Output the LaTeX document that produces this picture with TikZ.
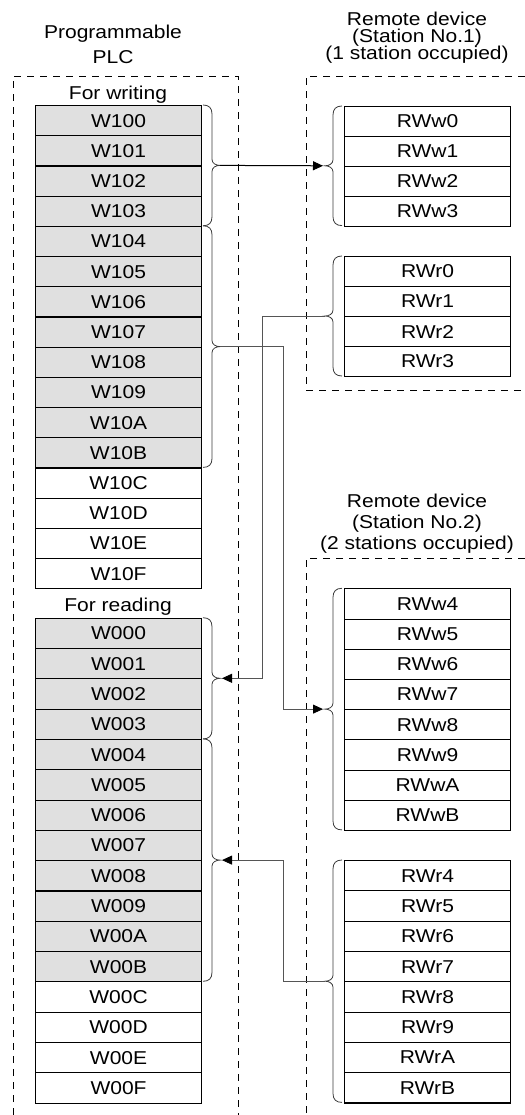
\documentclass[tikz,border=0pt]{standalone}
\usepackage{fontspec}
\setmainfont{Liberation Sans}[FakeStretch=1.13]
\usetikzlibrary{arrows.meta}
\definecolor{cellgray}{RGB}{224,224,224}
\definecolor{conngray}{RGB}{85,85,85}
\definecolor{bracegray}{RGB}{60,60,60}
\newcommand\BraceRight[4]{% x0, top, bottom, tip name : "}" shape
  \pgfmathsetmacro\bmid{(#2+#3)/2}
  \draw[brace] (#1,#2) .. controls ({#1+6},#2) and ({#1+9},{#2+3}) .. ({#1+9},{#2+9})
    -- ({#1+9},{\bmid-6}) .. controls ({#1+9},{\bmid-2}) and ({#1+13},\bmid) .. ({#1+17},\bmid)
    .. controls ({#1+13},\bmid) and ({#1+9},{\bmid+2}) .. ({#1+9},{\bmid+6})
    -- ({#1+9},{#3-9}) .. controls ({#1+9},{#3-3}) and ({#1+6},#3) .. (#1,#3);
  \coordinate (#4) at ({#1+17},\bmid);
}
\newcommand\BraceLeft[4]{% x0, top, bottom, tip name : "{" shape
  \pgfmathsetmacro\bmid{(#2+#3)/2}
  \draw[brace] (#1,#2) .. controls ({#1-6},#2) and ({#1-9},{#2+3}) .. ({#1-9},{#2+9})
    -- ({#1-9},{\bmid-6}) .. controls ({#1-9},{\bmid-2}) and ({#1-13},\bmid) .. ({#1-17},\bmid)
    .. controls ({#1-13},\bmid) and ({#1-9},{\bmid+2}) .. ({#1-9},{\bmid+6})
    -- ({#1-9},{#3-9}) .. controls ({#1-9},{#3-3}) and ({#1-6},#3) .. (#1,#3);
  \coordinate (#4) at ({#1-17},\bmid);
}
\begin{document}
\begin{tikzpicture}[x=1bp,y=-1bp,
  every node/.style={font=\fontsize{18.6bp}{20bp}\selectfont, inner sep=0pt},
  cell/.style={draw, line width=1.1bp, minimum width=166bp, minimum height=#1, anchor=north west},
  shaded/.style={fill=cellgray},
  dbox/.style={line width=0.9bp, dash pattern=on 7bp off 6bp},
  brace/.style={draw=bracegray, line width=0.8bp},
  tip/.style={-{Triangle[length=10bp,width=9bp,color=black]}},
  conn/.style={draw=conngray, line width=0.8bp, tip, shorten >=2bp},
  connb/.style={draw=black, line width=1bp, tip, shorten >=2bp},
  title/.style={anchor=base}
]
\useasboundingbox (0,0) rectangle (525,1115);

% dashed frames
\draw[dbox] (13,1115) -- (13,76) -- (238,76) -- (238,1115);
\draw[dbox] (525,76) -- (306,76) -- (306,390) -- (525,390);
\draw[dbox] (525,558) -- (306,558) -- (306,1115);

% titles
\node[title] (tplc1) at (113,38) {Programmable};
\node[title] (tplc2) at (113,63) {PLC};
\node[title] (tr1a) at (417,25) {Remote device};
\node[title] (tr1b) at (417,42) {(Station No.1)};
\node[title] (tr1c) at (417,59.5) {(1 station occupied)};
\node[title] (tr2a) at (417,507) {Remote device};
\node[title] (tr2b) at (417,528) {(Station No.2)};
\node[title] (tr2c) at (417,549) {(2 stations occupied)};
\node[title] (fw) at (118,99) {For writing};
\node[title] (fr) at (118,611) {For reading};

% PLC writing area
\foreach \t [count=\i from 0] in {W100,W101,W102,W103,W104,W105,W106,W107,W108,W109,W10A,W10B,W10C,W10D,W10E,W10F}{
  \ifnum\i<12
    \node[cell=30.2bp, shaded] (\t) at (35,{105+\i*30.2}) {\t};
  \else
    \node[cell=30.2bp] (\t) at (35,{105+\i*30.2}) {\t};
  \fi
}
% PLC reading area
\foreach \t [count=\i from 0] in {W000,W001,W002,W003,W004,W005,W006,W007,W008,W009,W00A,W00B,W00C,W00D,W00E,W00F}{
  \ifnum\i<12
    \node[cell=30.3bp, shaded] (\t) at (35,{617.7+\i*30.3}) {\t};
  \else
    \node[cell=30.3bp] (\t) at (35,{617.7+\i*30.3}) {\t};
  \fi
}
% Remote station 1
\foreach \t [count=\i from 0] in {RWw0,RWw1,RWw2,RWw3}{
  \node[cell=29.9bp] (\t) at (344,{106+\i*29.9}) {\t};
}
\foreach \t [count=\i from 0] in {RWr0,RWr1,RWr2,RWr3}{
  \node[cell=30bp] (\t) at (344,{256+\i*30}) {\t};
}
% Remote station 2
\foreach \t [count=\i from 0] in {RWw4,RWw5,RWw6,RWw7,RWw8,RWw9,RWwA,RWwB}{
  \node[cell=30.2bp] (\t) at (344,{588.3+\i*30.2}) {\t};
}
\foreach \t [count=\i from 0] in {RWr4,RWr5,RWr6,RWr7,RWr8,RWr9,RWrA,RWrB}{
  \node[cell=30.3bp] (\t) at (344,{860+\i*30.3}) {\t};
}

% braces on PLC side
\BraceRight{203}{105}{225.8}{bw1}
\BraceRight{203}{225.8}{467.4}{bw2}
\BraceRight{203}{617.7}{738.9}{br1}
\BraceRight{203}{738.9}{981.3}{br2}
% braces on remote side
\BraceLeft{342}{106}{225.6}{rw1}
\BraceLeft{342}{256}{376}{rr1}
\BraceLeft{342}{588.3}{829.9}{rw2}
\BraceLeft{342}{860}{1102.4}{rr2}

% connectors
\draw[connb] (bw1) -- (rw1);
\draw[conn] (rr1) -- ([xshift=-63bp]rr1) |- (br1);
\draw[conn] (bw2) -- ([xshift=63bp]bw2) |- (rw2);
\draw[conn] (rr2) -- ([xshift=-42bp]rr2) |- (br2);
\end{tikzpicture}
\end{document}
